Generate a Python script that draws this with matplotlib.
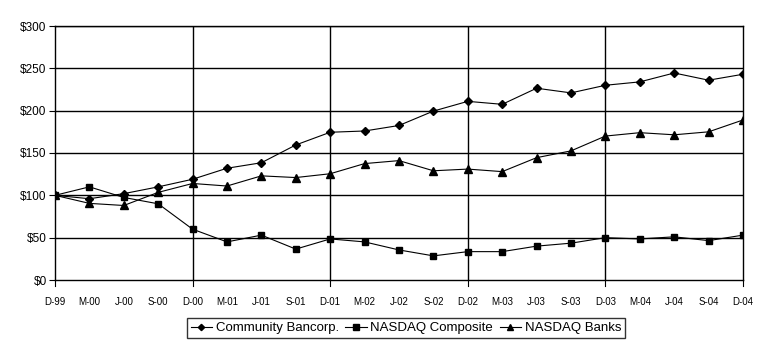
import matplotlib
matplotlib.use("Agg")
import matplotlib.pyplot as plt

plt.rcParams["font.family"] = ["Liberation Sans", "DejaVu Sans"]

quarters = ["D-99", "M-00", "J-00", "S-00", "D-00", "M-01", "J-01", "S-01", "D-01",
            "M-02", "J-02", "S-02", "D-02", "M-03", "J-03", "S-03", "D-03",
            "M-04", "J-04", "S-04", "D-04"]

community = [100, 96, 102, 110, 119, 132, 138.5, 159.5, 174.5, 176, 182.5, 199.5,
             211, 207.5, 226.5, 221, 230, 234, 244.5, 236, 243]
nasdaq_comp = [100, 110, 97.5, 90, 60, 45, 53, 36.5, 48.5, 45, 35.5, 28.5,
               33.5, 33.5, 40, 43.5, 50, 48.5, 51, 46.5, 53]
nasdaq_banks = [100, 90.5, 88, 103.5, 114, 111, 123, 121, 125.5, 137.5, 141, 129,
                131, 128, 144.5, 152.5, 170, 174, 171.5, 175, 189]

yticks = [0, 50, 100, 150, 200, 250, 300]

fig = plt.figure(figsize=(7.7, 3.56), dpi=100)
ax = fig.add_axes([55 / 770, 76 / 356, 688 / 770, 254 / 356])

x = list(range(len(quarters)))
ax.plot(x, community, color="black", lw=0.8, marker="D", ms=4, label="Community Bancorp.")
ax.plot(x, nasdaq_comp, color="black", lw=0.8, marker="s", ms=5, label="NASDAQ Composite")
ax.plot(x, nasdaq_banks, color="black", lw=0.8, marker="^", ms=5.5, label="NASDAQ Banks")

ax.set_xlim(0, len(quarters) - 1)
ax.set_ylim(0, 300)
ax.set_yticks(yticks)
ax.set_yticklabels(["$%d" % v for v in yticks], fontsize=8.5)
ax.set_xticks(x)
ax.set_xticklabels(quarters, fontsize=7)
ax.tick_params(axis="x", length=0, pad=12)
ax.tick_params(axis="y", length=4, width=0.8, direction="out", pad=2)

# grid: horizontal every $50, vertical at each December
for v in yticks[1:]:
    ax.axhline(v, color="black", lw=1, zorder=0)
for i, q in enumerate(quarters):
    if q.startswith("D-") and 0 < i < len(quarters) - 1:
        ax.axvline(i, color="black", lw=1, zorder=0)
    if q.startswith("D-"):
        ax.plot([i, i], [0, -7], color="black", lw=0.8, clip_on=False)

for s in ax.spines.values():
    s.set_color("black")
    s.set_linewidth(1)

leg = ax.legend(loc="center", bbox_to_anchor=(406 / 770, 28 / 356),
                bbox_transform=fig.transFigure, ncol=3, fontsize=9.5,
                frameon=True, fancybox=False, edgecolor="black",
                handlelength=1.6, handletextpad=0.3, columnspacing=0.5,
                borderpad=0.3, markerscale=0.8)
leg.get_frame().set_linewidth(1)

fig.savefig("out.png", dpi=100)
